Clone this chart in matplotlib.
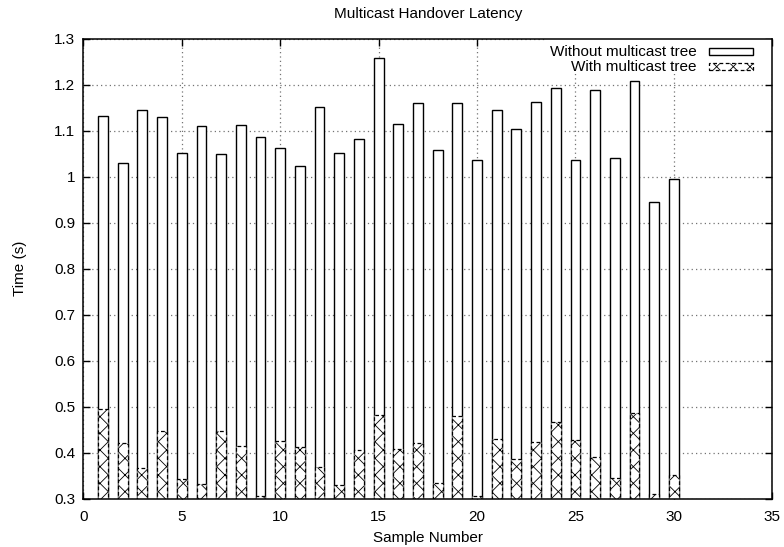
import matplotlib
matplotlib.use("Agg")
import matplotlib.pyplot as plt
from matplotlib.patches import Rectangle
import numpy as np

# Handover latency per sample (seconds)
samples = list(range(1, 31))
without_tree = [1.132, 1.030, 1.145, 1.129, 1.052, 1.111, 1.049, 1.113, 1.087, 1.062,
                1.023, 1.151, 1.052, 1.081, 1.258, 1.114, 1.160, 1.058, 1.161, 1.036,
                1.145, 1.104, 1.162, 1.193, 1.036, 1.188, 1.041, 1.207, 0.946, 0.995]
with_tree = [0.495, 0.422, 0.367, 0.447, 0.343, 0.333, 0.447, 0.414, 0.306, 0.425,
             0.412, 0.369, 0.330, 0.406, 0.483, 0.409, 0.421, 0.334, 0.480, 0.306,
             0.431, 0.386, 0.423, 0.468, 0.428, 0.392, 0.345, 0.486, 0.311, 0.353]
series_labels = ["Without multicast tree", "With multicast tree"]
x_ticks = [0, 5, 10, 15, 20, 25, 30, 35]
y_ticks = [0.3, 0.4, 0.5, 0.6, 0.7, 0.8, 0.9, 1.0, 1.1, 1.2, 1.3]
y_ticklabels = ["0.3", "0.4", "0.5", "0.6", "0.7", "0.8", "0.9", "1", "1.1", "1.2", "1.3"]

plt.rcParams["font.family"] = ["Liberation Sans", "DejaVu Sans"]
plt.rcParams["hatch.linewidth"] = 0.6

fig = plt.figure(figsize=(7.84, 5.47), dpi=100)
ax = fig.add_axes([0.1063, 0.0878, 0.8788, 0.8418])

bar_w = 0.5
ax.bar(samples, without_tree, width=bar_w, facecolor="white", edgecolor="black",
       linewidth=1.0, zorder=2)
ax.bar(samples, with_tree, width=bar_w, facecolor="white", edgecolor="black",
       linewidth=0.9, linestyle=(0, (3, 2)), hatch="xx", zorder=3)

ax.set_xlim(0, 35)
ax.set_ylim(0.3, 1.3)
ax.set_xticks(x_ticks)
ax.set_yticks(y_ticks)
ax.set_yticklabels(y_ticklabels)
ax.tick_params(direction="in", length=5, width=1.0, top=True, right=True,
               labelsize=11)
ax.tick_params(axis="x", pad=8)
ax.tick_params(axis="y", pad=6)
ax.grid(True, linestyle=(0, (1, 2.5)), color="0.45", linewidth=0.9, zorder=0)
ax.set_axisbelow(True)
for s in ax.spines.values():
    s.set_linewidth(1.1)
    s.set_zorder(6)

# Key area with white background, gnuplot style (text right-aligned, sample on the right)
ax.add_patch(Rectangle((0.67, 0.923), 0.33, 0.077, transform=ax.transAxes,
                       facecolor="white", edgecolor="none", zorder=4))
key_rows = [0.9713, 0.9387]
for row_y, label, style in zip(key_rows, series_labels, ["plain", "hatch"]):
    ax.text(0.8903, row_y, label, transform=ax.transAxes, ha="right", va="center",
            fontsize=11, zorder=5)
    if style == "plain":
        ax.add_patch(Rectangle((0.9085, row_y - 0.0075), 0.063, 0.015,
                               transform=ax.transAxes, facecolor="white",
                               edgecolor="black", linewidth=1.0, zorder=5))
    else:
        ax.add_patch(Rectangle((0.9085, row_y - 0.0075), 0.063, 0.015,
                               transform=ax.transAxes, facecolor="white",
                               edgecolor="black", linewidth=0.9,
                               linestyle=(0, (3, 2)), hatch="xx", zorder=5))

ax.text(0.5, 1.053, "Multicast Handover Latency", transform=ax.transAxes,
        ha="center", va="center", fontsize=11)
ax.set_xlabel("Sample Number", fontsize=11, va="center")
ax.set_ylabel("Time (s)", fontsize=11, va="center")
ax.xaxis.set_label_coords(0.5, -0.0847)
ax.yaxis.set_label_coords(-0.0919, 0.5)

fig.savefig("out.png", dpi=100)
